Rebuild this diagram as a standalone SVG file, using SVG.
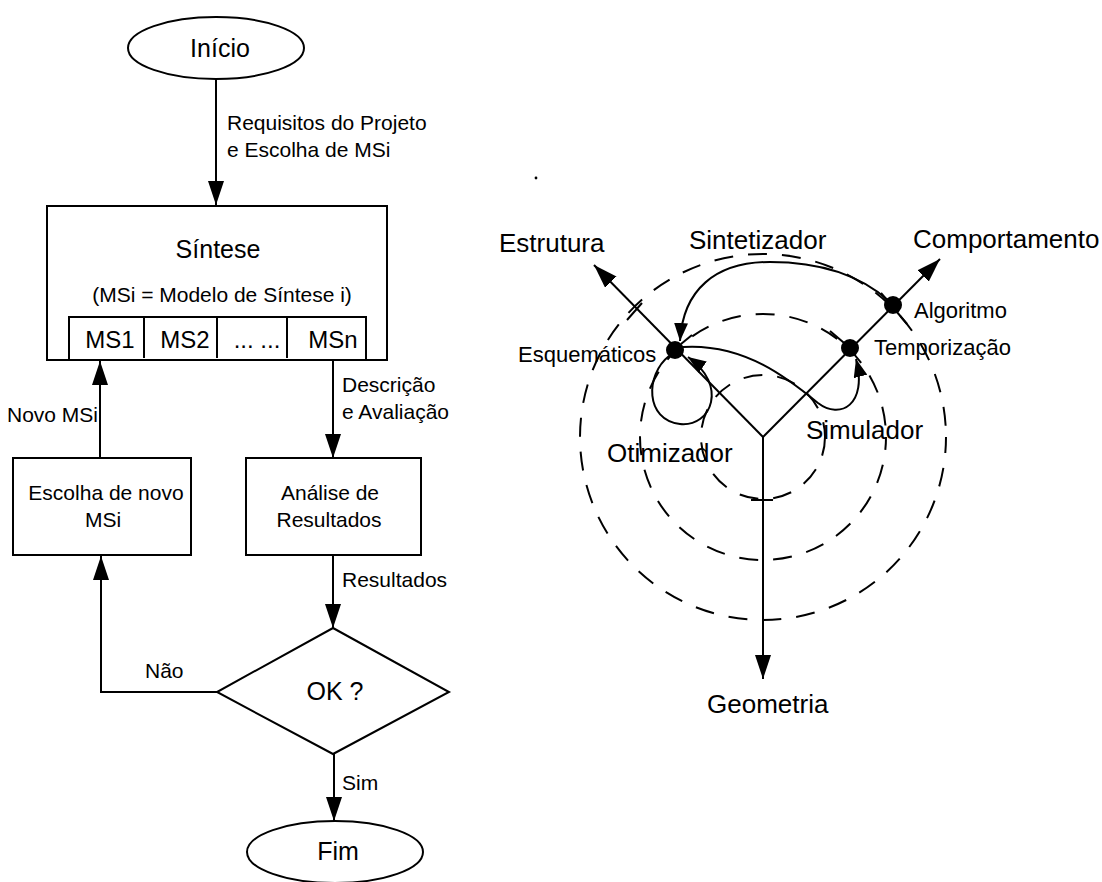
<svg xmlns="http://www.w3.org/2000/svg" width="1102" height="882" viewBox="0 0 1102 882">
<style>
.s{fill:none;stroke:#000;stroke-width:2}
.b{fill:#fff;stroke:#000;stroke-width:2}
.d{fill:none;stroke:#000;stroke-width:2;stroke-dasharray:19 15}
text{font-family:"Liberation Sans",Arial,sans-serif;fill:#000}
.t25{font-size:25px}
.t24{font-size:24px}
.t21{font-size:21px}
.t22{font-size:22px}
.t26{font-size:26px}
.m{text-anchor:middle}
</style>
<defs>
<marker id="ah" markerUnits="userSpaceOnUse" markerWidth="24" markerHeight="16" refX="24" refY="8" orient="auto">
<path d="M0,0 L24,8 L0,16 Z" fill="#000"/>
</marker>
<marker id="ahs" markerUnits="userSpaceOnUse" markerWidth="18" markerHeight="14" refX="18" refY="7" orient="auto">
<path d="M0,0 L18,7 L0,14 Z" fill="#000"/>
</marker>
</defs>
<rect width="1102" height="882" fill="#fff"/>

<g id="connectors">
<line class="s" x1="216" y1="79" x2="216" y2="205" marker-end="url(#ah)"/>
<line class="s" x1="333" y1="360" x2="333" y2="458" marker-end="url(#ah)"/>
<line class="s" x1="333" y1="555" x2="333" y2="628" marker-end="url(#ah)"/>
<line class="s" x1="334" y1="754" x2="334" y2="821" marker-end="url(#ah)"/>
<polyline class="s" points="217,692 101,692 101,556" marker-end="url(#ah)"/>
<line class="s" x1="100" y1="458" x2="100" y2="361" marker-end="url(#ah)"/>
<text class="t21" x="227" y="130">Requisitos do Projeto</text>
<text class="t21" x="227" y="157">e Escolha de MSi</text>
<text class="t21" x="7" y="422">Novo MSi</text>
<text class="t21" x="342" y="392">Descrição</text>
<text class="t21" x="342" y="419">e Avaliação</text>
<text class="t21" x="342" y="587">Resultados</text>
<text class="t21" x="145" y="678">Não</text>
<text class="t21" x="342" y="790">Sim</text>
</g>

<g id="inicio">
<ellipse class="b" cx="216" cy="48" rx="88" ry="31"/>
<text class="t25 m" x="220" y="57">Início</text>
</g>

<g id="sintese">
<rect class="b" x="47" y="206" width="340" height="154"/>
<text class="t25 m" x="218" y="258">Síntese</text>
<text class="t21 m" x="222" y="302">(MSi = Modelo de Síntese i)</text>
<rect class="s" x="69" y="317" width="297" height="43"/>
<line class="s" x1="144" y1="317" x2="144" y2="358"/>
<line class="s" x1="217" y1="317" x2="217" y2="358"/>
<line class="s" x1="287" y1="317" x2="287" y2="358"/>
<text class="t24 m" x="110" y="348">MS1</text>
<text class="t24 m" x="185" y="348">MS2</text>
<text class="t24 m" x="257" y="348">... ...</text>
<text class="t24 m" x="333" y="348">MSn</text>
</g>

<g id="escolha">
<rect class="b" x="13" y="458" width="178" height="97"/>
<text class="t21 m" x="106" y="500">Escolha de novo</text>
<text class="t21 m" x="103" y="527">MSi</text>
</g>

<g id="analise">
<rect class="b" x="246" y="458" width="175" height="97"/>
<text class="t21 m" x="330" y="500">Análise de</text>
<text class="t21 m" x="329" y="527">Resultados</text>
</g>

<g id="ok">
<polygon class="b" points="333,628 449,692 333,754 217,692"/>
<text class="t25 m" x="335" y="700">OK ?</text>
</g>

<g id="fim">
<ellipse class="b" cx="335" cy="852" rx="88" ry="31"/>
<text class="t25 m" x="338" y="860">Fim</text>
</g>

<g id="ychart">
<circle cx="536" cy="178" r="1.4" fill="#000"/>
<circle class="d" cx="763" cy="437" r="62"/>
<circle class="d" cx="763" cy="437" r="123" stroke-dashoffset="6"/>
<circle class="d" cx="763" cy="437" r="183" stroke-dashoffset="3"/>
<line class="s" x1="763" y1="437" x2="594" y2="265" marker-end="url(#ah)"/>
<line class="s" x1="763" y1="437" x2="940" y2="259" marker-end="url(#ah)"/>
<line class="s" x1="763" y1="437" x2="763" y2="679" marker-end="url(#ah)"/>
<line class="s" x1="751" y1="500" x2="773" y2="500"/>
<line class="s" x1="627" y1="320" x2="642" y2="303"/>
<line class="s" x1="681" y1="344" x2="692" y2="335"/>
<line class="s" x1="881" y1="293" x2="907" y2="324"/>
<line class="s" x1="830" y1="331" x2="850" y2="348"/>
<circle cx="675" cy="350" r="9" fill="#000"/>
<circle cx="850" cy="348" r="9" fill="#000"/>
<circle cx="893" cy="305" r="9" fill="#000"/>
<path class="s" d="M889 301 C860 275, 820 262, 770 262 C715 262, 683 290, 680 341" marker-end="url(#ahs)"/>
<path class="s" d="M683 347 C745 343, 790 380, 818 403 C840 420, 868 405, 856 359" marker-end="url(#ahs)"/>
<path class="s" d="M669 356 C645 375, 645 420, 680 424 C712 427, 728 385, 688 357" marker-end="url(#ahs)"/>
<text class="t26" x="499" y="252">Estrutura</text>
<text class="t26" x="689" y="249">Sintetizador</text>
<text class="t26" x="913" y="248">Comportamento</text>
<text class="t22" x="914" y="318">Algoritmo</text>
<text class="t22" x="518" y="362">Esquemáticos</text>
<text class="t22" x="874" y="355">Temporização</text>
<text class="t26" x="607" y="462">Otimizador</text>
<text class="t26" x="806" y="439">Simulador</text>
<text class="t26" x="707" y="713">Geometria</text>
</g>
</svg>
